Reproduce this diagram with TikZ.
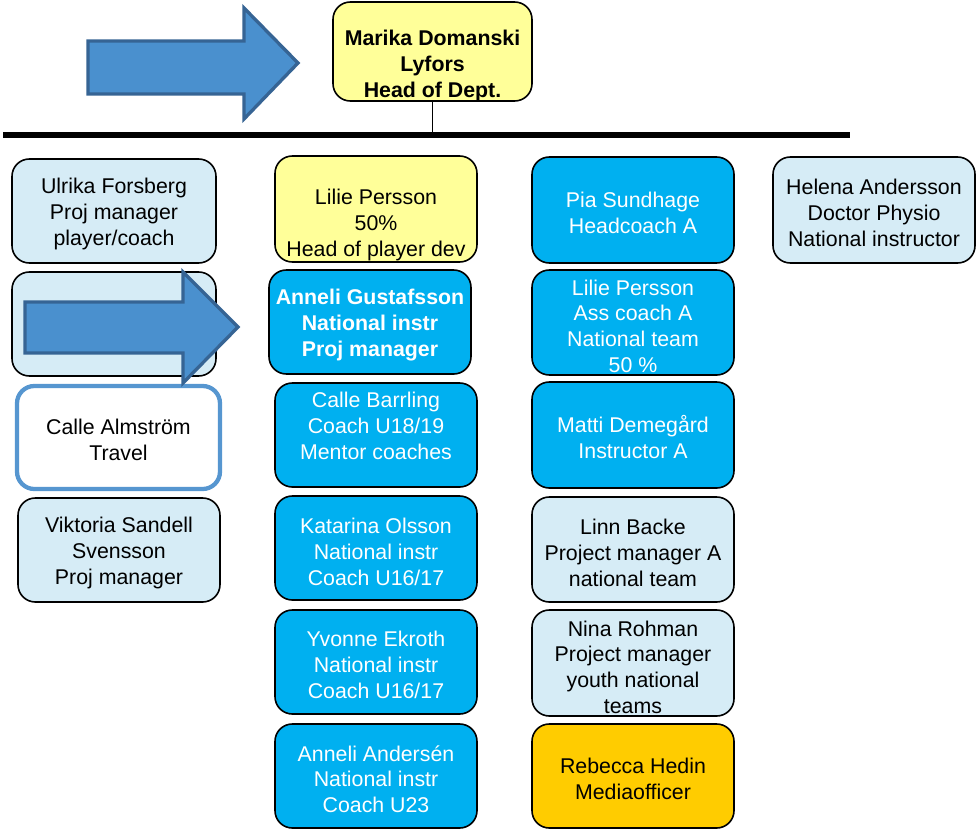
\documentclass[tikz,border=0pt]{standalone}
\usepackage{fontspec}
\setmainfont{Liberation Sans}
\usetikzlibrary{fit}
\definecolor{lblue}{RGB}{214,236,246}
\definecolor{cyanb}{RGB}{0,176,240}
\definecolor{lyellow}{RGB}{255,255,153}
\definecolor{gold}{RGB}{255,204,0}
\definecolor{arrfill}{RGB}{74,144,206}
\definecolor{arredge}{RGB}{54,100,148}
\definecolor{almedge}{RGB}{86,150,208}
\newcommand\orgbox[9]{%
  \node[pbox,#6,fit={(#2,#3) (#4,#5)}] (#1) {};
  \node[txt,#9] (#1t) at ({(#2+#4)/2},#7) {#8};}
\begin{document}
\begin{tikzpicture}[x=0.75pt,y=-0.75pt,
  pbox/.style={draw=black, line width=1.2pt, rounded corners=13pt, inner sep=0pt},
  txt/.style={align=center, font=\fontsize{16}{19.3}\selectfont, inner sep=0pt, yshift=-1.5pt},
  bigarrow/.style={fill=arrfill, draw=arredge, line width=2.5pt, line join=miter},
  lb/.style={fill=lblue}, cy/.style={fill=cyanb}, wt/.style={text=white}]
\useasboundingbox (0,0) rectangle (979,832);

% head
\orgbox{head}{333}{2}{532}{101}{fill=lyellow}{64}{\bfseries Marika Domanski\\\bfseries Lyfors\\\bfseries Head of Dept.}{}
\coordinate (hl) at (3,135);
\coordinate (hr) at (850,135);
\draw[line width=1pt] (head.south) -- (head.south |- hl);
\draw[line width=4pt] (hl) -- (hr);

% top arrow
\draw[bigarrow] (88,41) -- (244,41) -- (244,8) -- (298,63) -- (244,119) -- (244,94) -- (88,94) -- cycle;

% column 1
\orgbox{ulrika}{12}{159}{216}{263}{lb}{212}{Ulrika Forsberg\\Proj manager\\player/coach}{}
\node[pbox,lb,fit={(12,272) (216,376)}] (empty) {};
\orgbox{calle}{17}{386}{220}{489}{fill=white,draw=almedge,line width=3.2pt}{438}{Calle Almstr\"om\\Travel}{}
\orgbox{viktoria}{18}{498}{220}{602}{lb}{551}{Viktoria Sandell\\Svensson\\Proj manager}{}
\draw[bigarrow] (25,302) -- (183,302) -- (183,272) -- (238,327) -- (183,383) -- (183,353) -- (25,353) -- cycle;

% column 2
\orgbox{lilie}{275}{156}{477}{262}{fill=lyellow}{223}{Lilie Persson\\50\%\\Head of player dev}{}
\orgbox{anneli}{269}{270}{471}{374}{cy}{323}{\bfseries Anneli Gustafsson\\\bfseries National instr\\\bfseries Proj manager}{wt}
\orgbox{barrling}{275}{383}{477}{487}{cy}{424}{Calle Barrling\\Coach U18/19\\Mentor coaches}{wt}
\orgbox{katarina}{275}{496}{477}{600}{cy}{550}{Katarina Olsson\\National instr\\Coach U16/17}{wt}
\orgbox{yvonne}{275}{610}{477}{714}{cy}{663}{Yvonne Ekroth\\National instr\\Coach U16/17}{wt}
\orgbox{andersen}{275}{724}{477}{828}{cy}{777}{Anneli Anders\'en\\National instr\\Coach U23}{wt}

% column 3
\orgbox{pia}{532}{157}{734}{263}{cy}{211}{Pia Sundhage\\Headcoach A}{wt}
\orgbox{lilieass}{532}{270}{734}{375}{cy}{324}{Lilie Persson\\Ass coach A\\National team\\50 \%}{wt}
\orgbox{matti}{532}{382}{734}{488}{cy}{435}{Matti Demeg\aa rd\\Instructor A}{wt}
\orgbox{linn}{532}{497}{734}{602}{lb}{551}{Linn Backe\\Project manager A\\national team}{}
\orgbox{nina}{532}{610}{734}{716}{lb}{665}{Nina Rohman\\Project manager\\youth national\\teams}{}
\orgbox{rebecca}{532}{724}{734}{828}{fill=gold}{777}{Rebecca Hedin\\Mediaofficer}{}

% column 4
\orgbox{helena}{773}{157}{975}{263}{lb}{211}{Helena Andersson\\Doctor Physio\\National instructor}{}
\end{tikzpicture}
\end{document}
